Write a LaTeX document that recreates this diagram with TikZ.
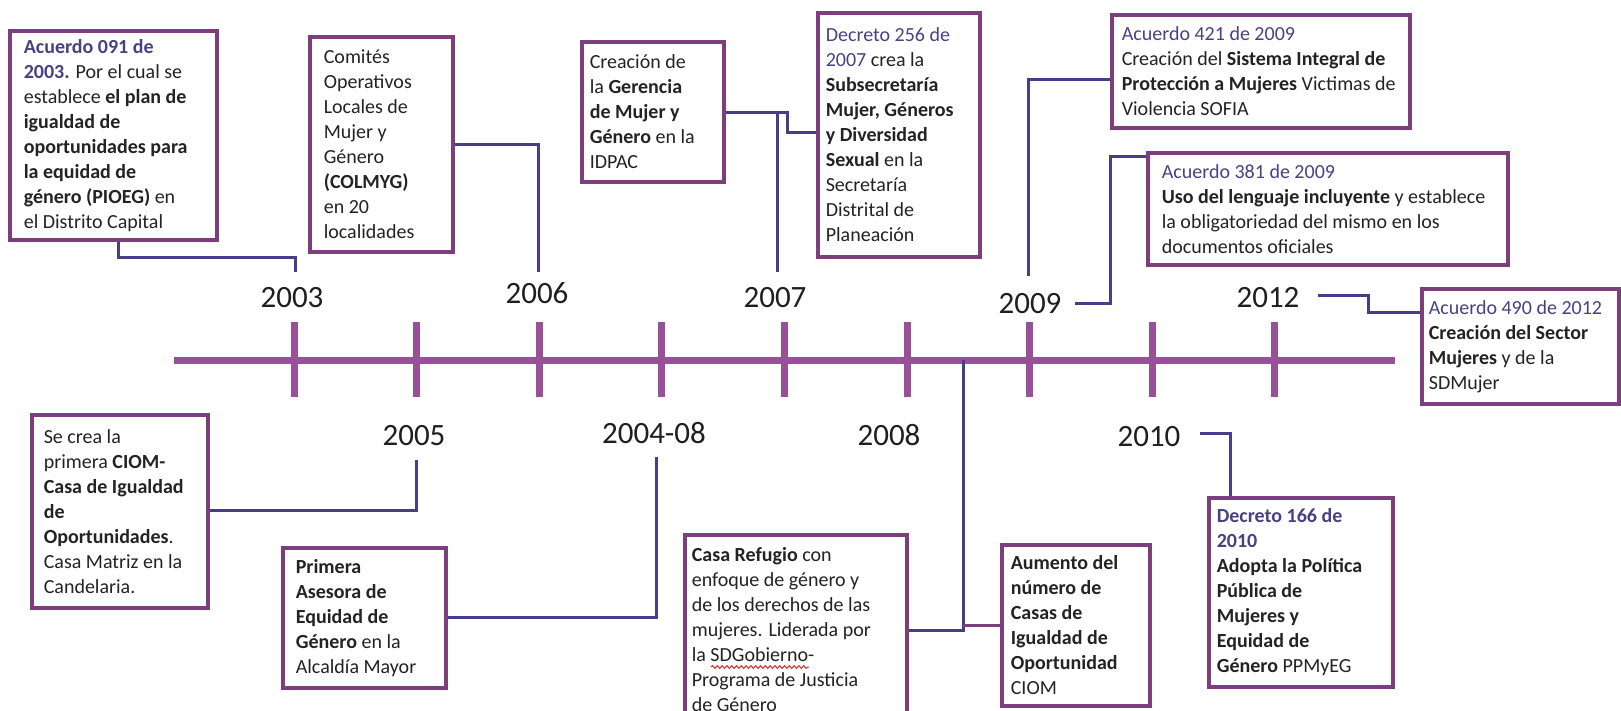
\documentclass[tikz,border=0pt]{standalone}
\usepackage{fontspec}
\setmainfont{Carlito}
\usetikzlibrary{decorations.pathmorphing}
\definecolor{barc}{RGB}{152,80,152}
\definecolor{boxc}{RGB}{125,62,125}
\definecolor{connc}{RGB}{70,62,135}
\definecolor{hdrc}{RGB}{72,66,132}
\definecolor{txtc}{RGB}{35,35,35}
\definecolor{sqc}{RGB}{215,45,45}
\newcommand\hdr[1]{\textcolor{hdrc}{#1}}
% #1 name, #2 x1, #3 y1, #4 x2, #5 y2, #6 left padding (px), #7 text
\newcommand\tlbox[7]{%
 \pgfmathsetmacro\tlbw{(#4-#2)*0.5}%
 \pgfmathsetmacro\tlbh{(#5-#3)*0.5}%
 \node[box,minimum width=\tlbw pt,minimum height=\tlbh pt] (#1) at ({(#2+#4)/2},{(#3+#5)/2}) {};%
 \node[boxtext] (#1-t) at ([xshift=#6*0.5pt]#1.west) {#7};}
\begin{document}
\begin{tikzpicture}[x=0.5pt,y=-0.5pt,
 box/.style={draw=boxc,line width=1.6pt,fill=white,inner sep=0pt},
 boxtext/.style={anchor=west,align=left,inner sep=0pt,font={\fontsize{10}{12.5}\selectfont},text=txtc},
 year/.style={font={\fontsize{15.5}{18}\selectfont},text=black!88,inner sep=0pt},
 conn/.style={draw=connc,line width=1.5pt},
 tickline/.style={draw=barc,line width=3.5pt},
 squig/.style={draw=sqc,line width=0.5pt,decorate,decoration={snake,amplitude=0.7pt,segment length=2.4pt}}]
\useasboundingbox (0,0) rectangle (1621,711);
\clip (0,0) rectangle (1621,711);
\fill[white] (0,0) rectangle (1621,711);

% timeline
\coordinate (bl) at (174,360);
\coordinate (br) at (1395,360);
\draw[tickline] (bl) -- (br);
\foreach \i in {0,...,8} { \draw[tickline] ({294+122.6*\i},322) -- ({294+122.6*\i},397); }

% years
\node[year] (y2003) at (292,298) {2003};
\node[year] (y2006) at (537,293) {2006};
\node[year] (y2007) at (775,298) {2007};
\node[year] (y2009) at (1030,304) {2009};
\node[year] (y2012) at (1268,298) {2012};
\node[year] (y2005) at (414,436) {2005};
\node[year] (y2004) at (654,433) {2004-08};
\node[year] (y2008) at (889,435) {2008};
\node[year] (y2010) at (1149,437) {2010};

% connector end points
\coordinate (a2003) at (295,272);
\coordinate (a2006) at (538,272);
\coordinate (a2007) at (777,272);
\coordinate (a2009) at (1028,276);
\coordinate (b2009) at (1075,303);
\coordinate (b2012) at (1318,295);
\coordinate (a2005) at (416,460);
\coordinate (a2004) at (656,457);
\coordinate (b2010) at (1200,433);
\coordinate (j2008) at (963,360);
\coordinate (jC) at (777,113);

% boxes
\tlbox{A}{10}{31}{217}{240}{15}{\textbf{\hdr{Acuerdo 091 de}}\\\textbf{\hdr{2003.}} Por el cual se\\establece \textbf{el plan de}\\\textbf{igualdad de}\\\textbf{oportunidades para}\\\textbf{la equidad de}\\\textbf{género (PIOEG)} en\\el Distrito Capital}
\tlbox{B}{310}{37}{453}{252}{15}{Comités\\Operativos\\Locales de\\Mujer y\\Género\\\textbf{(COLMYG)}\\en 20\\localidades}
\tlbox{C}{582}{42}{724}{182}{9}{Creación de\\la \textbf{Gerencia}\\\textbf{de Mujer y}\\\textbf{Género} en la\\IDPAC}
\tlbox{D}{818}{13}{980}{257}{9}{\hdr{Decreto 256 de}\\\hdr{2007} crea la\\\textbf{Subsecretaría}\\\textbf{Mujer, Géneros}\\\textbf{y Diversidad}\\\textbf{Sexual} en la\\Secretaría\\Distrital de\\Planeación}
\tlbox{E}{1112}{15}{1410}{128}{11}{\hdr{Acuerdo 421 de 2009}\\Creación del \textbf{Sistema Integral de}\\\textbf{Protección a Mujeres} Victimas de\\Violencia SOFIA}
\tlbox{F}{1148}{153}{1508}{265}{15}{\hdr{Acuerdo 381 de 2009}\\\textbf{Uso del lenguaje incluyente} y establece\\la obligatoriedad del mismo en los\\documentos oficiales}
\tlbox{G}{1422}{289}{1619}{404}{8}{\hdr{Acuerdo 490 de 2012}\\\textbf{Creación del Sector}\\\textbf{Mujeres} y de la\\SDMujer}
\tlbox{H}{32}{415}{208}{608}{13}{Se crea la\\primera \textbf{CIOM-}\\\textbf{Casa de Igualdad}\\\textbf{de}\\\textbf{Oportunidades}.\\Casa Matriz en la\\Candelaria.}
\tlbox{I}{283}{548}{446}{688}{14}{\textbf{Primera}\\\textbf{Asesora de}\\\textbf{Equidad de}\\\textbf{Género} en la\\Alcaldía Mayor}
\tlbox{J}{685}{535}{907}{725}{8}{\textbf{Casa Refugio} con\\enfoque de género y\\de los derechos de las\\mujeres. Liderada por\\la SDGobierno-\\Programa de Justicia\\de Género}
\tlbox{K}{1002}{545}{1150}{706}{10}{\textbf{Aumento del}\\\textbf{número de}\\\textbf{Casas de}\\\textbf{Igualdad de}\\\textbf{Oportunidad}\\CIOM}
\tlbox{L}{1209}{498}{1393}{687}{9}{\textbf{\hdr{Decreto 166 de}}\\\textbf{\hdr{2010}}\\\textbf{Adopta la Política}\\\textbf{Pública de}\\\textbf{Mujeres y}\\\textbf{Equidad de}\\\textbf{Género} PPMyEG}

% spell-check squiggle under SDGobierno
\draw[squig] (711,667) -- (809,667);

% connectors
\draw[conn] (A.south -| 118,0) |- (295,258) -- (a2003);
\draw[conn] (B.east |- 0,145) -| (a2006);
\draw[conn] (C.east |- 0,113) -- (787,113) |- (D.west |- 0,133);
\draw[conn] (jC) -- (a2007);
\draw[conn] (a2009) |- (E.west |- 0,80);
\draw[conn] (b2009) -| (1110,157) -- (F.west |- 0,157);
\draw[conn] (b2012) -| (1368,312) -- (G.west |- 0,312);
\draw[conn] (H.east |- 0,510) -| (a2005);
\draw[conn] (I.east |- 0,617) -| (a2004);
\draw[conn] (b2010) -| (L.north -| 1230,0);
\draw[conn] (j2008) |- (J.east);
\draw[draw=boxc,line width=1.5pt] (K.west) -- (K.west -| j2008);
\end{tikzpicture}
\end{document}
